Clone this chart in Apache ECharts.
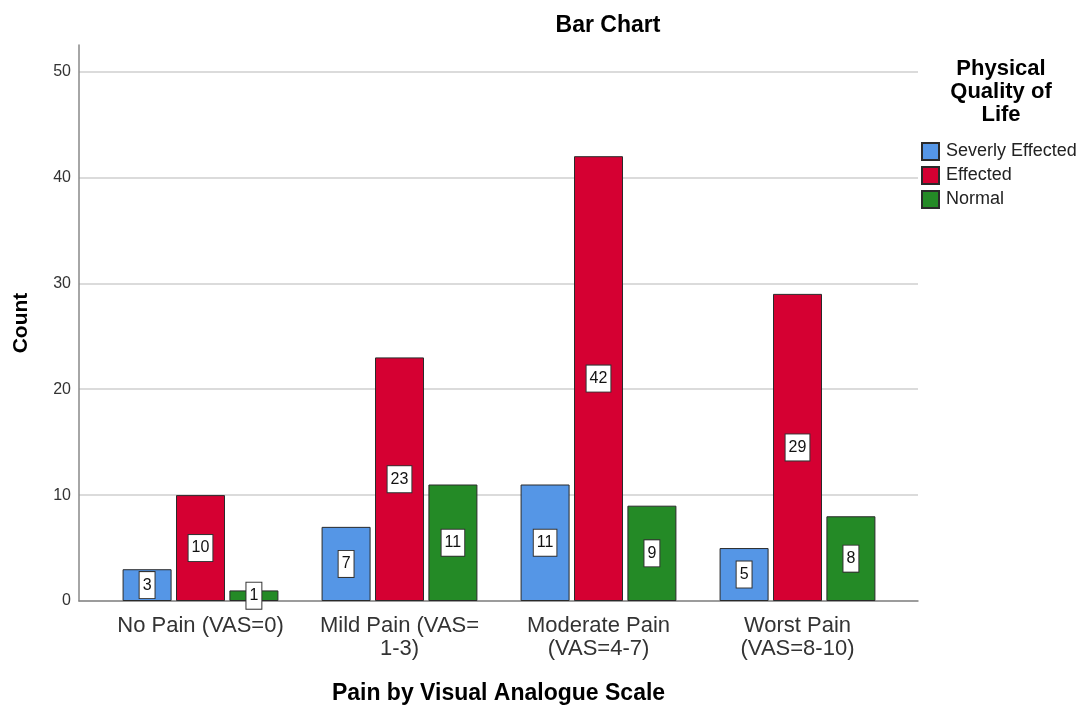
<!DOCTYPE html>
<html>
<head>
<meta charset="utf-8">
<script src="https://cdn.jsdelivr.net/npm/echarts@6/dist/echarts.min.js"></script>
<style>
  html, body { margin: 0; padding: 0; background: #fff; }
  #chart { width: 1081px; height: 707px; }
</style>
</head>
<body>
<div id="chart"></div>
<script>
// Pain categories (Visual Analogue Scale)
const categories = [
  'No Pain (VAS=0)',
  'Mild Pain (VAS=\n1-3)',
  'Moderate Pain\n(VAS=4-7)',
  'Worst Pain\n(VAS=8-10)'
];

// Counts per Physical Quality of Life group
const severlyEffected = [3, 7, 11, 5];
const effected = [10, 23, 42, 29];
const normal = [1, 11, 9, 8];

const seriesNames = ['Severly Effected', 'Effected', 'Normal'];
const seriesColors = ['#5596e6', '#d50032', '#248a26'];

const yTicks = [0, 10, 20, 30, 40, 50];

const FONT = '"Liberation Sans", Arial, sans-serif';
const Y_MAX = 52.5;

const chart = echarts.init(document.getElementById('chart'), null, { renderer: 'canvas' });

const valueLabel = {
  show: true,
  position: 'inside',
  color: '#111',
  fontFamily: FONT,
  fontSize: 16,
  lineHeight: 18,
  backgroundColor: '#fff',
  borderColor: '#333',
  borderWidth: 1,
  padding: [4, 3, 4, 3]
};

function barSeries(name, data, color) {
  return {
    name: name,
    type: 'bar',
    xAxisIndex: 1,
    yAxisIndex: 1,
    data: data,
    barWidth: 49,
    barGap: '9%',
    itemStyle: { color: color, borderColor: '#2a2a2a', borderWidth: 1 },
    label: valueLabel,
    emphasis: { disabled: true }
  };
}

chart.setOption({
  animation: false,
  backgroundColor: '#fff',
  textStyle: { fontFamily: FONT },
  grid: [
    // frame: axis lines and gridlines
    { left: 79, right: 163, top: 45, bottom: 106, containLabel: false, outerBoundsMode: 'none' },
    // bars, inset from the frame on both sides
    { left: 101, right: 184, top: 45, bottom: 106, containLabel: false, outerBoundsMode: 'none' }
  ],
  xAxis: [
    {
      gridIndex: 0,
      type: 'value',
      min: 0,
      max: 1,
      axisLine: { show: true, lineStyle: { color: '#888', width: 1.5 } },
      axisTick: { show: false },
      axisLabel: { show: false },
      splitLine: { show: false },
      name: 'Pain by Visual Analogue Scale',
      nameLocation: 'middle',
      nameGap: 81,
      nameTextStyle: { fontFamily: FONT, fontSize: 23, fontWeight: 'bold', color: '#000' }
    },
    {
      gridIndex: 1,
      type: 'category',
      data: categories,
      axisLine: { show: false },
      axisTick: { show: false },
      axisLabel: {
        fontFamily: FONT,
        fontSize: 22,
        color: '#333',
        lineHeight: 23,
        margin: 13,
        interval: 0
      }
    }
  ],
  yAxis: [
    {
      gridIndex: 0,
      type: 'value',
      min: 0,
      max: Y_MAX,
      interval: 10,
      axisLine: { show: true, lineStyle: { color: '#888', width: 1.5 } },
      axisTick: { show: false },
      axisLabel: {
        fontFamily: FONT,
        fontSize: 16,
        color: '#333',
        margin: 8,
        formatter: v => (yTicks.indexOf(v) >= 0 ? String(v) : '')
      },
      splitLine: { show: true, showMaxLine: false, lineStyle: { color: '#cfcfcf', width: 1.5 } },
      name: 'Count',
      nameLocation: 'middle',
      nameRotate: 90,
      nameGap: 47,
      nameTextStyle: { fontFamily: FONT, fontSize: 21, fontWeight: 'bold', color: '#000' }
    },
    {
      gridIndex: 1,
      type: 'value',
      min: 0,
      max: Y_MAX,
      show: false,
      splitLine: { show: false }
    }
  ],
  legend: {
    orient: 'vertical',
    left: 921,
    top: 142,
    padding: 0,
    icon: 'rect',
    itemWidth: 17,
    itemHeight: 17,
    itemGap: 5,
    textStyle: { fontFamily: FONT, fontSize: 18, lineHeight: 17, color: '#222', padding: [0, 0, 0, 2] },
    data: seriesNames
  },
  graphic: [
    {
      type: 'text',
      style: {
        text: 'Bar Chart',
        x: 608,
        y: 26,
        textAlign: 'center',
        textVerticalAlign: 'middle',
        font: 'bold 23px ' + FONT,
        fill: '#000'
      }
    },
    {
      type: 'text',
      style: {
        text: 'Physical\nQuality of\nLife',
        x: 1001,
        y: 57,
        textAlign: 'center',
        lineHeight: 23,
        font: 'bold 22px ' + FONT,
        fill: '#000'
      }
    }
  ],
  series: [
    barSeries(seriesNames[0], severlyEffected, seriesColors[0]),
    barSeries(seriesNames[1], effected, seriesColors[1]),
    barSeries(seriesNames[2], normal, seriesColors[2])
  ]
});
</script>
</body>
</html>
